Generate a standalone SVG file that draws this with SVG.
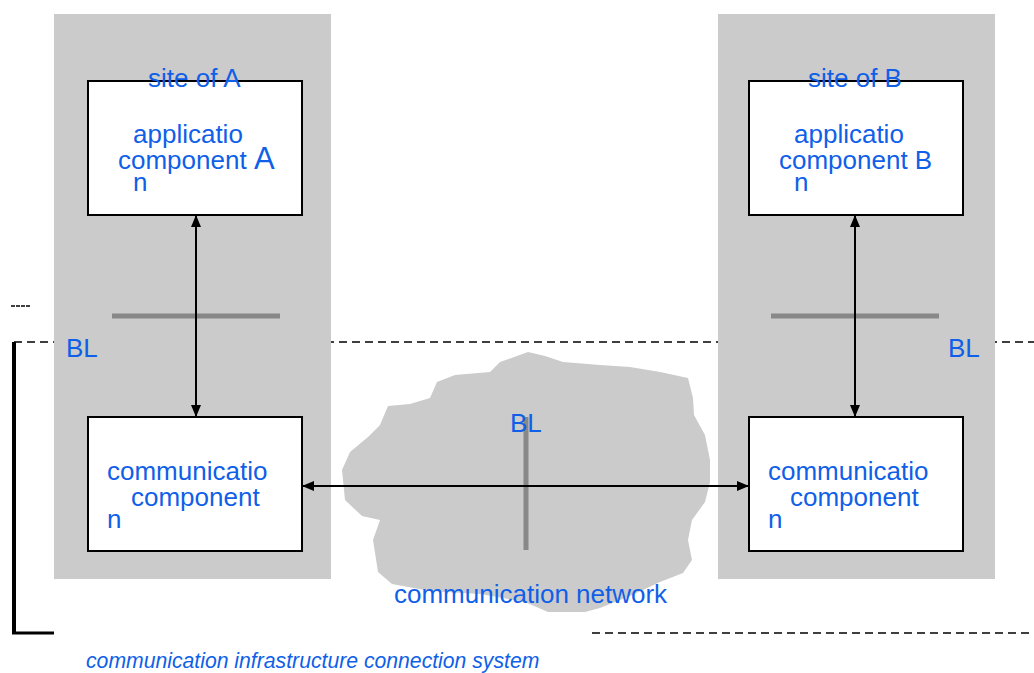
<svg xmlns="http://www.w3.org/2000/svg" width="1034" height="673" viewBox="0 0 1034 673">
<style>
.t{font-family:"Liberation Sans",Arial,sans-serif;font-size:26px;fill:#0f5fe8}
.panel{fill:#cbcbcb}
.box{fill:#fff;stroke:#000;stroke-width:2}
.bar{stroke:#888;stroke-width:5}
.dash{stroke:#000;stroke-width:1.5;stroke-dasharray:8 5;fill:none}
.conn{stroke:#000;stroke-width:2;fill:none;marker-start:url(#ah);marker-end:url(#ah)}
</style>
<defs>
<marker id="ah" viewBox="0 0 12 10" refX="12" refY="5" markerWidth="12" markerHeight="10" markerUnits="userSpaceOnUse" orient="auto-start-reverse">
<path d="M0,0 L12,5 L0,10 Z" fill="#000"/>
</marker>
</defs>
<rect width="1034" height="673" fill="#fff"/>
<g id="boundary">
<line class="dash" x1="14" y1="342" x2="1034" y2="342"/>
<line x1="14" y1="342" x2="14" y2="634" stroke="#000" stroke-width="4"/>
<line x1="12" y1="633" x2="54" y2="633" stroke="#000" stroke-width="3"/>
<line x1="11" y1="306" x2="30" y2="306" stroke="#000" stroke-width="1.5" stroke-dasharray="4 1"/>
<line class="dash" x1="592" y1="633" x2="1034" y2="633"/>
</g>
<g id="siteA">
<rect class="panel" x="54" y="14" width="277" height="565"/>
</g>
<g id="siteB">
<rect class="panel" x="718" y="14" width="277" height="565"/>
</g>
<g id="network">
<path fill="#cbcbcb" d="M528,352 L545,356 L563,362 L600,365 L630,367 L660,372 L688,378 L693,398 L694,415 L705,435 L710,460 L710,482 L705,502 L692,520 L688,540 L692,560 L683,573 L660,582 L630,596 L600,608 L585,612 L548,612 L525,602 L480,594 L430,591 L392,584 L378,572 L373,540 L380,520 L362,516 L345,500 L342,470 L350,452 L368,437 L380,425 L388,406 L410,404 L430,398 L437,382 L455,375 L490,372 L500,362 Z"/>
<rect x="523.5" y="417" width="5" height="133" fill="#888"/>
<text class="t" x="510" y="432">BL</text>
<text class="t" x="394" y="603">communication network</text>
</g>
<g id="appA">
<rect class="box" x="88" y="81" width="214" height="134"/>
<text class="t" x="148" y="87">site of A</text>
<text class="t" x="133" y="143">applicatio</text>
<text class="t" x="118" y="169">component <tspan font-size="31">A</tspan></text>
<text class="t" x="133" y="191">n</text>
</g>
<g id="commA">
<rect class="box" x="88" y="417" width="214" height="134"/>
<text class="t" x="107" y="480">communicatio</text>
<text class="t" x="131" y="506">component</text>
<text class="t" x="107" y="528">n</text>
</g>
<g id="appB">
<rect class="box" x="749" y="81" width="214" height="134"/>
<text class="t" x="808" y="87">site of B</text>
<text class="t" x="794" y="143">applicatio</text>
<text class="t" x="779" y="169">component B</text>
<text class="t" x="794" y="191">n</text>
</g>
<g id="commB">
<rect class="box" x="749" y="417" width="214" height="134"/>
<text class="t" x="768" y="480">communicatio</text>
<text class="t" x="790" y="506">component</text>
<text class="t" x="768" y="528">n</text>
</g>
<g id="bl-markers">
<line class="bar" x1="112" y1="316" x2="280" y2="316"/>
<line class="bar" x1="771" y1="316" x2="939" y2="316"/>
<text class="t" x="66" y="357">BL</text>
<text class="t" x="948" y="357">BL</text>
</g>
<g id="connectors">
<line class="conn" x1="196" y1="215" x2="196" y2="417"/>
<line class="conn" x1="855" y1="215" x2="855" y2="417"/>
<line class="conn" x1="302" y1="486" x2="749" y2="486"/>
</g>
<text x="86" y="668" font-family="'Liberation Sans',Arial,sans-serif" font-size="21.2" font-style="italic" fill="#0f5fe8">communication infrastructure connection system</text>
</svg>
